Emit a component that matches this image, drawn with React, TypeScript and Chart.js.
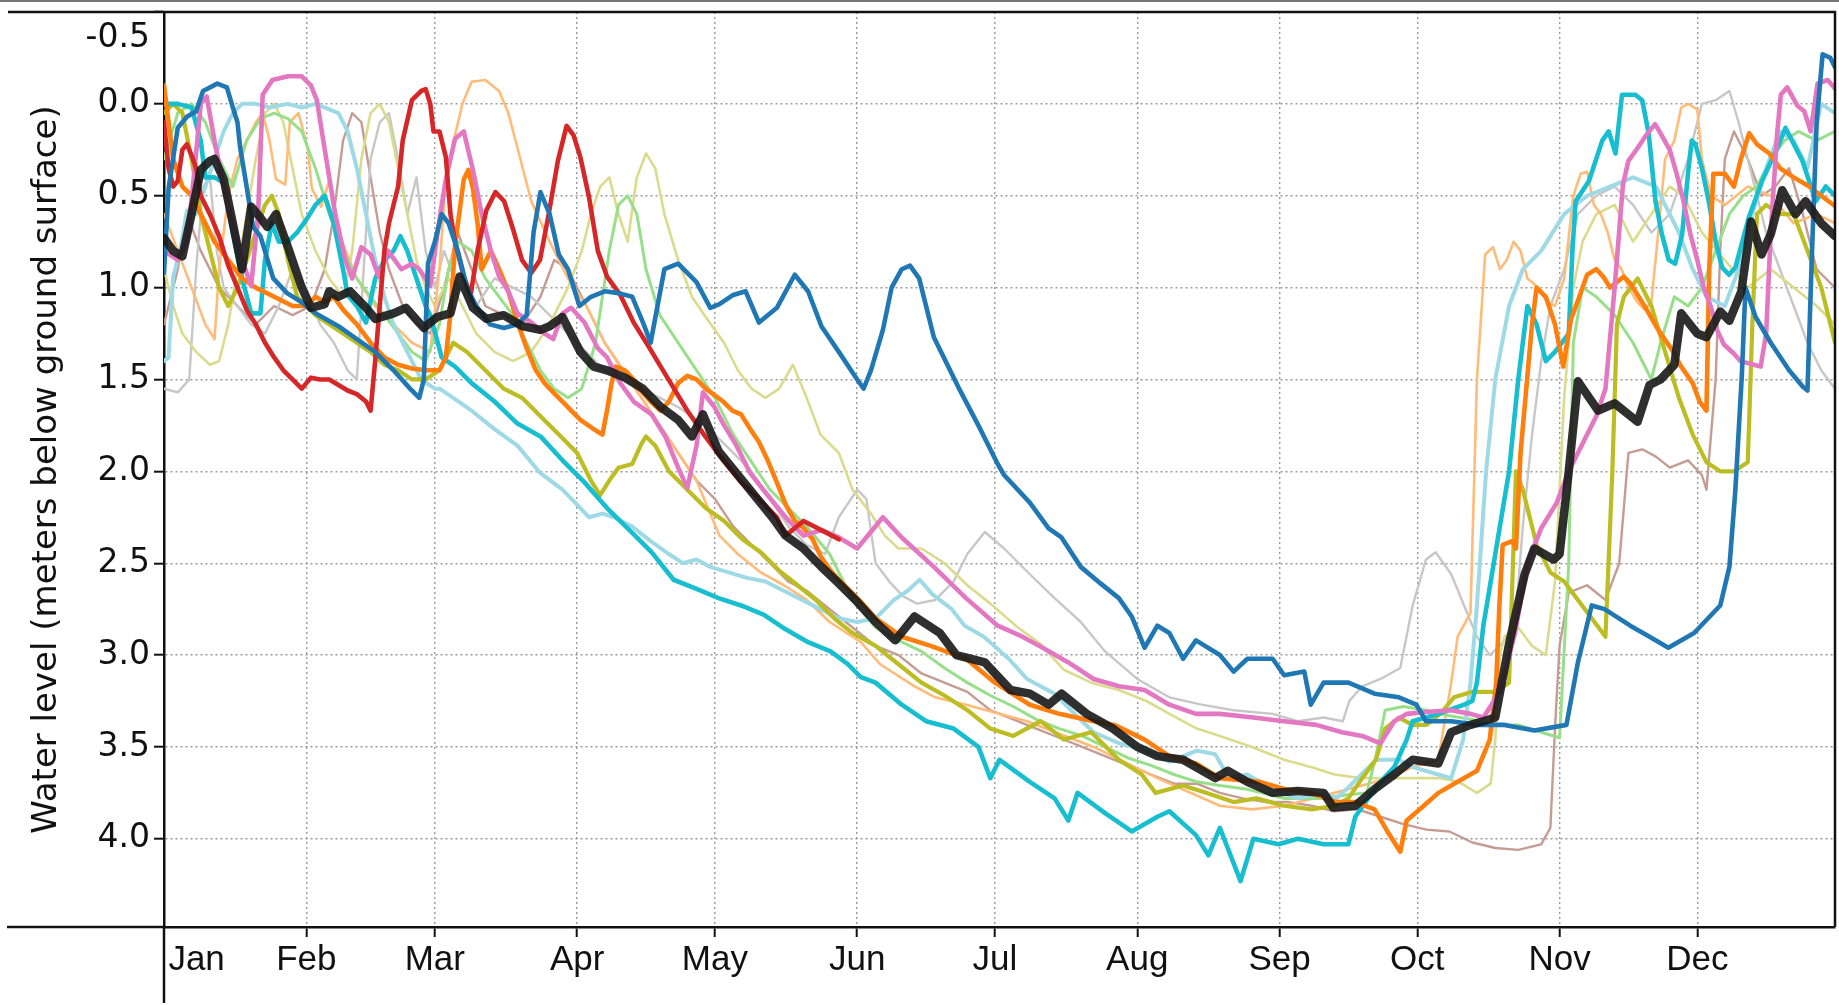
import React, { useEffect, useRef } from "react";
import { Chart, registerables } from "chart.js";

Chart.register(...registerables);

type P = [number, number];

// ---- axis data ----
const monthNames = ["Jan", "Feb", "Mar", "Apr", "May", "Jun", "Jul", "Aug", "Sep", "Oct", "Nov", "Dec"];
const monthStartDays = [0, 31, 59, 90, 120, 151, 181, 212, 243, 273, 304, 334];
const janLabelDay = 7.1;
const yTickValues = [-0.5, 0, 0.5, 1, 1.5, 2, 2.5, 3, 3.5, 4];
const yTitle = "Water level (meters below ground surface)";

// ---- series: [day of year, meters below ground surface] ----
const meanLevel: P[] = [[0,0.73],[2,0.8],[4,0.83],[6,0.6],[8,0.36],[10,0.31],[11,0.3],[13,0.41],[15,0.65],[17,0.9],[19,0.56],[21,0.62],[22.5,0.67],[24.4,0.6],[27,0.78],[30,1.0],[32,1.11],[35,1.09],[36,1.02],[38,1.05],[40.5,1.02],[44,1.11],[46,1.17],[50,1.14],[52.7,1.11],[56.6,1.22],[59.5,1.16],[62.4,1.14],[64.4,0.94],[67.3,1.11],[70.2,1.17],[74,1.15],[78,1.21],[82,1.23],[84,1.21],[86.8,1.16],[90.7,1.35],[93.6,1.43],[96.5,1.45],[100.4,1.49],[104.3,1.55],[108.2,1.65],[112,1.72],[115,1.81],[117.4,1.69],[120.8,1.89],[124.7,2.01],[128.6,2.13],[132.5,2.25],[135.4,2.35],[139.3,2.42],[143.2,2.52],[147,2.61],[151,2.71],[155,2.82],[159.3,2.92],[163.5,2.79],[169,2.88],[172.6,3.0],[178.8,3.04],[184.4,3.19],[188.6,3.21],[192.7,3.27],[195.5,3.21],[201,3.32],[206.7,3.4],[212,3.5],[216.4,3.55],[222,3.57],[229,3.67],[231.7,3.63],[236,3.69],[241.5,3.75],[247,3.74],[252.6,3.75],[254.7,3.83],[259.5,3.82],[263.7,3.73],[268,3.65],[272,3.57],[277.6,3.59],[280.4,3.42],[284.6,3.38],[287.4,3.36],[290,3.34],[293,2.94],[296.4,2.56],[298.5,2.42],[302.7,2.48],[304,2.45],[306,2.0],[308,1.51],[312.4,1.67],[316,1.63],[321,1.73],[323.6,1.53],[326,1.5],[329,1.42],[330.5,1.14],[334,1.25],[336,1.27],[339,1.13],[341,1.18],[343.6,1.02],[345.7,0.64],[348,0.82],[350,0.71],[352.5,0.47],[355.4,0.6],[357.6,0.53],[361,0.65],[364,0.72]];

const levelsBlue: P[] = [[0,0.92],[1,0.46],[3,0.13],[5,0.07],[7,0.04],[8.5,-0.07],[11.6,-0.11],[13.7,-0.09],[15,0.02],[16,0.1],[16.6,0.24],[18,0.45],[19.4,0.67],[21,0.72],[23.8,0.95],[26.8,1.03],[30,1.08],[33,1.14],[38,1.21],[42,1.28],[46,1.35],[50,1.45],[53.6,1.55],[55.6,1.6],[56.6,1.5],[57.5,0.87],[59,0.75],[60.5,0.6],[62,0.65],[64,0.8],[66,1.0],[68,1.1],[71,1.2],[74,1.22],[77,1.2],[79,1.15],[80.5,0.7],[82,0.48],[84,0.6],[86,0.82],[88,0.9],[90.5,1.1],[93,1.05],[96,1.02],[99,1.03],[102,1.05],[104.5,1.2],[106,1.3],[107.5,1.1],[109,0.9],[112,0.87],[116,0.97],[119,1.11],[121,1.09],[124,1.04],[126.7,1.02],[129.6,1.19],[133.5,1.11],[137.4,0.93],[140.3,1.02],[143.2,1.21],[147,1.35],[151,1.5],[152.4,1.55],[154,1.45],[156.6,1.23],[158.5,1.0],[160.7,0.9],[162.5,0.88],[164.5,0.95],[167.7,1.27],[173,1.54],[177.4,1.75],[181.6,1.96],[183,2.02],[188.6,2.17],[192.7,2.31],[195.5,2.36],[199.7,2.52],[204,2.61],[208,2.69],[210.8,2.79],[213.6,2.96],[216.4,2.84],[219,2.88],[222,3.02],[224.8,2.92],[230,3.0],[233,3.09],[236,3.02],[241.5,3.02],[244,3.11],[248.4,3.09],[249.8,3.27],[252.6,3.15],[258,3.15],[263.7,3.21],[269,3.23],[272.8,3.27],[274.9,3.36],[280.4,3.36],[286,3.38],[292,3.38],[298.5,3.41],[305.5,3.38],[308,3.04],[311,2.73],[313.8,2.75],[319.4,2.84],[323.6,2.9],[327.7,2.96],[333.3,2.88],[339,2.73],[341,2.52],[342.3,2.1],[343.7,1.48],[344.5,1.0],[346.7,1.16],[350,1.3],[354,1.45],[357,1.54],[358,1.56],[359,0.8],[360,0.1],[361.3,-0.27],[363,-0.25],[364,-0.2]];

const levelsRed: P[] = [[0,0.1],[1,0.35],[2,0.45],[3,0.42],[4,0.25],[5,0.22],[6,0.28],[7,0.35],[8,0.5],[10,0.6],[12,0.72],[14,0.88],[16,1.0],[18,1.12],[20,1.2],[22,1.3],[24,1.38],[26,1.45],[28,1.5],[30,1.55],[32,1.49],[34,1.5],[36,1.5],[38,1.53],[40,1.56],[42,1.58],[44,1.62],[45,1.67],[46,1.4],[47,1.1],[48,0.8],[49,0.65],[51,0.45],[52,0.2],[54,-0.02],[56,-0.07],[57,-0.08],[58,0.0],[58.7,0.15],[60,0.15],[61.4,0.29],[62.4,0.6],[63.4,0.75],[65.3,0.94],[66.8,1.04],[68.3,0.8],[70.2,0.58],[72.2,0.48],[74.1,0.53],[76,0.68],[78,0.85],[80,0.92],[81.9,0.85],[83.8,0.6],[85.8,0.31],[87.7,0.12],[89.2,0.17],[90.7,0.29],[92.6,0.51],[94.5,0.8],[96.5,0.94],[99.4,1.04],[102.3,1.19],[105.3,1.31],[108.2,1.43],[111.1,1.55],[114,1.67],[117.9,1.81],[121.8,1.94],[125.7,2.06],[129.6,2.15],[133.5,2.25],[135.4,2.35],[139.3,2.27],[143.2,2.32],[147,2.37]];

const levelsPink: P[] = [[0,0.8],[3,0.85],[5,0.75],[6.5,0.4],[8,0.0],[9.3,-0.04],[11,0.2],[13,0.45],[15,0.65],[17,0.85],[19,0.99],[20.5,0.6],[21.5,-0.05],[23.6,-0.13],[27,-0.15],[30,-0.15],[32,-0.1],[33.3,-0.02],[34.7,0.2],[36,0.4],[37.3,0.6],[39.5,0.85],[41,0.95],[43,0.78],[45,0.82],[46.8,0.94],[48.8,0.8],[51.7,0.9],[54,0.87],[55.6,0.9],[58,0.99],[60,0.63],[61.4,0.41],[63.4,0.19],[65.3,0.15],[67.3,0.36],[69.2,0.6],[71.2,0.8],[73,0.94],[75,1.02],[77,1.14],[80,1.19],[82.9,1.25],[84.8,1.28],[86.8,1.14],[88.7,1.11],[91.6,1.19],[94.5,1.33],[96.5,1.38],[99.4,1.52],[102.3,1.62],[106.2,1.69],[109.2,1.81],[112,1.98],[114,2.09],[116,1.86],[117.4,1.57],[119.9,1.65],[121.8,1.74],[124.7,1.86],[127.7,2.01],[131.5,2.13],[135.4,2.25],[139.3,2.35],[143.2,2.32],[147,2.36],[151,2.42],[156.6,2.25],[160.7,2.36],[167.7,2.52],[174.7,2.69],[181.6,2.84],[187,2.9],[191.4,2.96],[197,3.04],[202.5,3.13],[208,3.17],[213.6,3.19],[219,3.27],[224.8,3.32],[230,3.32],[237.3,3.34],[244,3.36],[251,3.38],[256.6,3.42],[261,3.44],[265,3.48],[268,3.36],[270.7,3.32],[274.8,3.31],[280.4,3.3],[284.6,3.32],[287.4,3.34],[291,3.2],[294.3,2.88],[297,2.5],[300,2.31],[303.4,2.17],[306,2.0],[309,1.85],[312,1.7],[314,1.55],[316,1.0],[317.8,0.44],[319,0.31],[321,0.24],[322.6,0.18],[324.8,0.11],[326,0.16],[328,0.25],[329.5,0.38],[331,0.53],[332.5,0.71],[334,0.85],[335.4,1.0],[336.9,1.1],[338.3,1.23],[339.8,1.31],[342,1.36],[343.4,1.4],[346.3,1.42],[347.8,1.43],[349,1.25],[350,0.7],[351.4,0.16],[352.2,-0.05],[353.6,-0.09],[355.8,0.01],[357.3,0.04],[358.7,0.15],[360.2,-0.11],[362.4,-0.13],[364.5,-0.07]];

const levelsOrange: P[] = [[0,-0.1],[1,0.1],[2,0.3],[4,0.45],[6,0.5],[8,0.6],[11,0.75],[14,0.85],[17,0.95],[20,1.0],[24,1.05],[28,1.1],[31,1.1],[33,1.05],[35,1.08],[37,1.05],[39,1.12],[42,1.2],[45,1.3],[48,1.38],[51,1.42],[54,1.44],[57,1.45],[60,1.45],[61.4,1.38],[62.4,1.14],[63.4,0.77],[65.3,0.41],[66.3,0.36],[67.3,0.46],[68.3,0.65],[69.2,0.9],[71.2,0.8],[73,0.9],[75,1.02],[77,1.19],[79,1.33],[81,1.45],[82.9,1.52],[84.8,1.57],[86.8,1.62],[88.7,1.67],[90.7,1.72],[93.6,1.77],[95.5,1.8],[96.5,1.67],[97.5,1.52],[98.4,1.43],[100.4,1.45],[102.3,1.5],[104.3,1.57],[106,1.62],[108.2,1.67],[110,1.62],[112,1.52],[114,1.48],[116,1.5],[118,1.55],[121.8,1.62],[123.8,1.67],[125.7,1.69],[127.7,1.77],[129.6,1.84],[131.5,1.94],[133.5,2.06],[135.4,2.18],[137.4,2.27],[139,2.3],[141.3,2.37],[143.2,2.47],[145.2,2.54],[147,2.59],[149,2.64],[151.8,2.71],[155,2.8],[160.7,2.9],[167,2.95],[174.7,3.02],[181,3.15],[188.6,3.27],[195,3.32],[202.5,3.36],[207,3.38],[213.6,3.46],[219,3.55],[224.8,3.59],[230,3.67],[238.7,3.69],[244.2,3.73],[249.8,3.75],[255.4,3.8],[259.5,3.8],[263.7,3.84],[266.5,3.96],[269.3,4.07],[270.7,3.9],[273.5,3.84],[277.6,3.75],[281.8,3.69],[286,3.63],[288.8,3.46],[290.2,3.15],[290.9,2.73],[291.6,2.4],[293.7,2.38],[294.5,2.42],[295.5,1.9],[297,1.48],[298,1.2],[299,1.0],[301,1.05],[303,1.2],[304.8,1.43],[306.5,1.17],[308,1.07],[310,0.93],[312,0.9],[313.5,0.94],[315,1.0],[318,0.94],[319.5,0.98],[322.5,1.1],[325.5,1.23],[328.5,1.34],[330.5,1.43],[333,1.52],[334.5,1.62],[336,1.67],[336.6,0.9],[337.5,0.38],[340,0.38],[342,0.45],[343.5,0.3],[345.3,0.16],[347,0.22],[349.7,0.27],[352,0.35],[355,0.4],[358.4,0.45],[361,0.5],[364.2,0.56]];

const levelsCyan: P[] = [[0,0.0],[3,0.0],[6,0.02],[8,0.2],[9,0.4],[11,0.4],[13,0.43],[15,0.7],[17,0.95],[19,1.14],[21,1.14],[22,0.85],[23.5,0.65],[25,0.75],[27,0.75],[29,0.7],[31,0.63],[33,0.55],[35,0.5],[37,0.65],[39,0.9],[40,1.04],[42,1.1],[44,1.19],[46,0.95],[48,0.85],[50,0.8],[51.5,0.72],[53,0.8],[55,0.95],[57,1.1],[58,1.15],[60.5,1.38],[63.4,1.43],[67,1.52],[72,1.62],[77,1.74],[82,1.81],[86.8,1.94],[91.6,2.06],[96.5,2.2],[101.4,2.32],[106.2,2.44],[111,2.59],[116,2.64],[120.8,2.69],[125.7,2.73],[130.6,2.78],[135.4,2.86],[140.3,2.93],[145.2,2.98],[149,3.05],[151.8,3.12],[155,3.15],[160.7,3.27],[166,3.36],[172,3.4],[177.4,3.5],[180,3.67],[182,3.57],[188.6,3.69],[194,3.78],[197,3.9],[199,3.75],[205,3.86],[210.8,3.96],[216.4,3.88],[219,3.85],[224.8,3.98],[227.5,4.09],[230,3.94],[234.5,4.23],[237.3,4.0],[242.8,4.03],[247,4.0],[252.6,4.03],[258,4.03],[259.5,3.88],[262.3,3.78],[265,3.69],[268,3.61],[270.7,3.46],[272,3.36],[275,3.34],[277.6,3.32],[283.2,3.27],[285,3.25],[286,3.15],[287.4,2.84],[289,2.6],[291,2.3],[293,2.0],[295,1.5],[297,1.1],[299,1.2],[301,1.4],[303,1.35],[306,1.25],[306.8,0.8],[307.5,0.53],[310.4,0.42],[313.3,0.2],[314.7,0.15],[316.2,0.27],[317.6,-0.05],[320.5,-0.05],[322,-0.02],[323.4,0.16],[324.9,0.53],[326.3,0.71],[327.8,0.85],[329.2,0.87],[330.7,0.71],[332.1,0.35],[332.8,0.2],[333.6,0.22],[335,0.35],[336.5,0.53],[338,0.75],[339.4,0.89],[340.9,0.93],[342.3,0.89],[345.2,0.62],[348.1,0.42],[351.8,0.22],[353.2,0.13],[356.9,0.31],[359.8,0.53],[362,0.45],[364,0.5]];

const levelsLightCyan: P[] = [[0,1.4],[1,1.38],[2,0.94],[3.5,0.8],[5,0.58],[7,0.6],[9,0.45],[11,0.3],[13,0.15],[15,0.05],[17,0.0],[20,0.0],[23,0.02],[27,0.0],[30,0.02],[33,0.0],[36,0.03],[38,0.05],[40,0.15],[42,0.35],[44,0.6],[46,0.85],[48,1.05],[50,1.2],[53,1.35],[56,1.5],[59,1.55],[60,1.55],[63,1.6],[67,1.67],[72,1.77],[77,1.86],[82,2.01],[86.8,2.1],[90.7,2.2],[92.6,2.25],[95.5,2.23],[98,2.25],[102,2.3],[106,2.38],[110,2.45],[113,2.5],[116,2.48],[119,2.52],[123,2.55],[127,2.58],[131,2.6],[135,2.65],[139,2.7],[143,2.75],[147,2.8],[151,2.82],[155,2.8],[159,2.7],[162,2.65],[164.6,2.59],[167.4,2.67],[171.6,2.75],[174.4,2.84],[178.6,2.9],[184,3.02],[188,3.13],[194,3.21],[200,3.36],[202.5,3.42],[208,3.48],[214,3.52],[219,3.58],[225,3.52],[229,3.54],[232,3.67],[236,3.65],[241.5,3.73],[247,3.78],[252.6,3.75],[255.4,3.78],[258,3.72],[264,3.57],[269,3.57],[272,3.61],[277.6,3.65],[280.4,3.67],[283,3.46],[284.6,3.15],[286,2.73],[288,2.0],[290,1.5],[293,1.1],[296,0.9],[300,0.8],[305,0.6],[310,0.5],[315,0.45],[320,0.4],[325,0.45],[330,0.7],[333,0.9],[336,1.05],[340,1.1],[343,0.9],[346,0.6],[349,0.35],[352,0.15],[355,0.2],[358,0.35],[361,0.0],[364,0.05]];

const levelsOlive: P[] = [[0,0.05],[2,0.0],[4,0.05],[6,0.3],[8,0.6],[10,0.8],[12,1.0],[14,1.1],[16,1.0],[18,0.85],[20,0.7],[22,0.55],[23.5,0.5],[25,0.6],[27,0.85],[29,1.05],[31,1.1],[33,1.15],[36,1.2],[39,1.25],[42,1.3],[45,1.35],[48,1.42],[51,1.45],[54,1.5],[57,1.5],[60,1.45],[63,1.3],[66,1.35],[70,1.45],[74,1.55],[78,1.6],[82,1.7],[86,1.8],[90,1.9],[93,2.05],[95,2.13],[97,2.05],[99,1.98],[102,1.96],[104,1.85],[105,1.81],[107,1.86],[110,2.0],[114,2.1],[118,2.2],[122,2.27],[126,2.37],[130,2.44],[134,2.54],[138,2.62],[142,2.7],[146,2.8],[150,2.88],[155,2.95],[160,3.05],[165,3.15],[170,3.22],[175,3.3],[180,3.4],[185,3.44],[191,3.36],[196,3.46],[202,3.42],[208,3.57],[213,3.65],[216,3.75],[222,3.71],[227,3.75],[233,3.8],[238,3.78],[244,3.82],[250,3.84],[255,3.82],[258,3.78],[261,3.67],[264,3.57],[266,3.4],[269,3.34],[272,3.38],[275,3.38],[278,3.32],[281,3.23],[285,3.2],[290,3.2],[293,3.15],[294.5,2.0],[296,2.1],[299,2.4],[302,2.55],[305,2.6],[308,2.7],[311,2.8],[314,2.9],[315.5,2.0],[316.5,1.2],[318,1.05],[321,0.95],[324,1.1],[327,1.35],[330,1.6],[333,1.8],[336,1.95],[339,2.0],[342,2.0],[345,1.95],[346,1.2],[347,0.6],[349,0.55],[352,0.6],[355,0.6],[358,0.8],[361,1.0],[364,1.3]];

const levelsLightGreen: P[] = [[0,0.3],[3,0.05],[6,0.0],[9,0.1],[12,0.3],[15,0.45],[18,0.2],[21,0.08],[24,0.05],[27,0.08],[30,0.15],[33,0.35],[36,0.6],[39,0.8],[42,0.95],[45,1.05],[48,1.15],[51,1.25],[54,1.35],[57,1.4],[60,1.2],[62,0.9],[64,0.75],[67,0.8],[70,0.95],[73,1.05],[76,1.15],[79,1.3],[82,1.45],[85,1.55],[88,1.6],[91,1.55],[94,1.3],[97,0.8],[99,0.55],[101,0.5],[103,0.6],[105,0.9],[108,1.15],[112,1.3],[116,1.45],[120,1.6],[124,1.8],[128,1.95],[132,2.1],[136,2.2],[140,2.3],[145,2.45],[150,2.7],[155,2.85],[160,2.92],[165,2.98],[170,3.07],[175,3.15],[180,3.22],[185,3.28],[190,3.35],[195,3.4],[200,3.44],[205,3.5],[210,3.56],[215,3.6],[220,3.65],[225,3.69],[230,3.71],[236,3.73],[244,3.78],[252,3.78],[258,3.76],[262,3.75],[264,3.55],[266,3.3],[270,3.28],[275,3.3],[280,3.33],[285,3.35],[290,3.38],[295,3.38],[300,3.42],[304,3.45],[306,2.5],[307,1.3],[309,1.0],[312,1.05],[316,1.15],[320,1.3],[324,1.5],[326,1.3],[329,1.05],[332,1.1],[335,1.0],[338,0.8],[341,0.6],[344,0.5],[347,0.45],[350,0.3],[353,0.2],[356,0.15],[360,0.2],[364,0.15]];

const levelsLightOrange: P[] = [[0,0.6],[3,0.8],[6,1.0],[9,1.2],[11,1.28],[12,0.9],[14,0.5],[16,0.3],[18,0.2],[20,0.1],[21.5,0.05],[23,0.2],[24.4,0.41],[26.4,0.44],[27.4,0.1],[29.3,0.05],[31.3,0.24],[32.2,0.46],[34.2,0.56],[36.1,0.41],[38,0.7],[42,0.95],[46,1.1],[50,1.2],[54,1.3],[58,1.35],[60,0.9],[61.4,0.41],[63.4,0.17],[65,0.0],[67,-0.12],[70,-0.13],[73,-0.07],[75,0.05],[77,0.24],[80,0.53],[84,0.75],[88,0.95],[92,1.1],[96,1.3],[100,1.45],[104,1.6],[108,1.75],[112,1.9],[116,2.05],[121,2.35],[125,2.45],[130,2.55],[135,2.62],[140,2.7],[145,2.82],[151.8,2.93],[156,3.05],[163.5,3.17],[168,3.23],[174.7,3.27],[188,3.36],[202.5,3.5],[216.4,3.67],[230,3.82],[237,3.84],[244,3.82],[255,3.75],[261,3.71],[266.5,3.67],[272,3.61],[277.6,3.57],[280.4,3.15],[281.8,2.9],[284.6,2.77],[286,1.5],[287.8,0.82],[289.5,0.78],[291,0.9],[292.5,0.85],[294,0.75],[295.5,0.8],[297,0.95],[298.5,0.98],[300,1.03],[301.5,1.08],[303,1.1],[305,0.95],[307,0.5],[308.6,0.38],[310,0.37],[311.5,0.55],[313,0.6],[314.5,0.7],[316,0.85],[317.5,0.9],[319,1.0],[321,1.08],[322.5,1.12],[324,1.08],[325.5,0.7],[327,0.3],[329,0.2],[330.5,0.02],[332,0.0],[334,0.03],[335,0.3],[337,0.5],[340,0.55],[345,0.45],[350,0.5],[355,0.65],[360,0.6],[364,0.65]];

const levelsGray: P[] = [[0,1.55],[3,1.57],[5.5,1.5],[7,0.9],[8.5,0.45],[10,0.4],[11.5,0.8],[13,1.0],[16,1.1],[19,1.2],[22,1.25],[25,1.1],[28,0.9],[31,1.0],[34,1.2],[37,1.3],[40,1.45],[42,1.5],[43.5,0.9],[45,0.3],[47,0.1],[49,0.05],[51,0.3],[53,0.6],[55,0.4],[57,0.8],[59,1.0],[61,0.8],[64,1.0],[68,1.1],[72,0.95],[76,1.0],[80,1.05],[84,1.15],[88,1.25],[92,1.35],[96,1.45],[100,1.5],[104,1.55],[108,1.6],[112,1.65],[116,1.72],[120,1.8],[124,1.9],[128,2.0],[132,2.15],[136,2.3],[140,2.4],[144,2.45],[147,2.25],[151,2.1],[153,2.15],[155,2.5],[158,2.6],[161,2.68],[164,2.72],[168,2.7],[172,2.6],[175,2.45],[178.8,2.33],[183,2.42],[188.6,2.56],[194,2.69],[199.7,2.82],[205,2.98],[212,3.13],[219,3.23],[226,3.27],[233,3.3],[241.5,3.32],[247,3.36],[252.6,3.34],[256.8,3.36],[258.2,3.25],[261,3.17],[265,3.13],[269.3,3.07],[272,2.73],[274.9,2.48],[277,2.44],[280.4,2.56],[283.2,2.73],[286,2.9],[288.8,3.0],[291,2.95],[294.3,2.84],[296,2.3],[298,1.8],[300,1.4],[302,1.1],[305,0.9],[308,0.6],[312,0.5],[316,0.45],[320,0.55],[324,0.7],[328,0.6],[332,0.3],[335,0.0],[338,-0.02],[341,-0.07],[343,0.1],[346,0.4],[349,0.7],[352,0.9],[355,1.1],[358,1.3],[361,1.45],[364,1.55]];

const levelsBrown: P[] = [[0,1.2],[3,0.9],[5,0.6],[8,0.8],[12,1.0],[16,1.1],[20,1.2],[24,1.1],[28,1.15],[32,1.1],[35,0.9],[37,0.6],[39,0.2],[41,0.05],[43,0.1],[45,0.4],[47,0.7],[49,0.9],[52,1.1],[55,1.2],[58,1.25],[61,1.0],[64,0.7],[67,0.9],[70,1.1],[74,1.15],[78,1.2],[82,1.05],[85,0.85],[88,0.9],[92,1.1],[96,1.3],[100,1.45],[104,1.6],[108,1.75],[112,1.9],[116,2.05],[120,2.15],[124,2.3],[128,2.4],[132,2.5],[136,2.6],[140,2.65],[145,2.75],[150,2.85],[155,2.95],[160,3.0],[165,3.1],[170,3.15],[175,3.2],[180,3.3],[185,3.35],[190,3.4],[195,3.45],[200,3.5],[205,3.55],[210,3.6],[215,3.65],[220,3.7],[225,3.7],[230,3.75],[235,3.78],[240,3.8],[245,3.8],[250,3.82],[255,3.85],[260,3.84],[265,3.88],[270,3.92],[275,3.95],[280,3.96],[285,4.02],[290,4.05],[295,4.06],[300,4.03],[302,3.94],[303,3.4],[304,2.95],[306,2.66],[310,2.62],[314,2.7],[317,2.5],[319,1.9],[322,1.88],[325,1.92],[328,1.98],[332,1.94],[335,2.02],[336,2.1],[338,1.5],[339,0.8],[340,0.3],[342,0.15],[345,0.3],[348,0.5],[351,0.45],[354,0.35],[357,0.6],[360,0.9],[364,1.0]];

const levelsLightOlive: P[] = [[0,0.9],[2,1.1],[4,1.25],[7,1.35],[10,1.42],[12,1.4],[14,1.2],[16,0.9],[18,0.6],[20,0.3],[22,0.05],[24,0.0],[26,0.1],[28,0.35],[30,0.6],[33,0.8],[36,0.95],[39,1.05],[41,0.8],[43,0.3],[45,0.05],[47,0.0],[49,0.1],[51,0.35],[53,0.6],[55,0.85],[57,1.0],[59,1.1],[62,0.95],[65,1.1],[68,1.25],[72,1.35],[76,1.4],[80,1.35],[84,1.2],[88,1.0],[91,0.8],[93,0.6],[95,0.45],[97,0.4],[99,0.6],[101,0.75],[103,0.4],[105,0.27],[107,0.35],[109,0.6],[112,0.85],[115,1.05],[118,1.16],[122,1.3],[125,1.45],[128,1.55],[131,1.6],[134,1.55],[137,1.42],[140,1.6],[143,1.8],[147,1.9],[150,2.1],[154,2.23],[157,2.35],[160,2.42],[165,2.42],[170,2.5],[175,2.62],[180,2.72],[186,2.85],[191,2.94],[196,3.08],[202,3.15],[208,3.19],[214,3.25],[219,3.32],[225,3.4],[230,3.44],[237,3.5],[244,3.57],[250,3.61],[255,3.65],[261,3.67],[266,3.67],[272,3.67],[278,3.67],[282,3.69],[286,3.75],[289,3.7],[290,3.46],[291,3.0],[292,2.9],[295,2.85],[298,2.95],[301,3.0],[303,2.6],[305,1.6],[307,1.0],[309,0.75],[312,0.6],[316,0.55],[320,0.75],[324,0.6],[328,0.45],[331,0.5],[335,0.7],[340,0.85],[345,1.0],[350,0.9],[355,1.0],[360,1.1],[364,1.2]];

// ---- series styling (drawn first = on top) ----
const seriesList: { data: P[]; color: string; width: number }[] = [
  { data: meanLevel, color: "rgba(24,24,24,0.9)", width: 8.5 },
  { data: levelsBlue, color: "#1f77b4", width: 4.6 },
  { data: levelsRed, color: "#d62728", width: 4.6 },
  { data: levelsPink, color: "#e377c2", width: 4.6 },
  { data: levelsOrange, color: "#ff7f0e", width: 4.6 },
  { data: levelsCyan, color: "#17becf", width: 4.6 },
  { data: levelsOlive, color: "#bcbd22", width: 4.2 },
  { data: levelsLightCyan, color: "#9edae5", width: 4 },
  { data: levelsLightGreen, color: "#98df8a", width: 3 },
  { data: levelsLightOrange, color: "#ffbb78", width: 2.6 },
  { data: levelsLightOlive, color: "#dbdb8d", width: 2.6 },
  { data: levelsGray, color: "#c7c7c7", width: 2.4 },
  { data: levelsBrown, color: "#c49c94", width: 2.4 },
];

const xTickValues = [janLabelDay, ...monthStartDays.slice(1)];

const framePlugin = {
  id: "frame",
  afterDraw(chart: any) {
    const { ctx, chartArea } = chart;
    const { left, right, top, bottom } = chartArea;
    ctx.save();
    ctx.strokeStyle = "#777";
    ctx.lineWidth = 2;
    ctx.beginPath();
    ctx.moveTo(0, 1);
    ctx.lineTo(1839, 1);
    ctx.stroke();
    ctx.strokeStyle = "#111";
    ctx.lineWidth = 2.5;
    ctx.beginPath();
    ctx.moveTo(8, top);
    ctx.lineTo(right, top);
    ctx.lineTo(right, bottom);
    ctx.moveTo(7, bottom);
    ctx.lineTo(left, bottom);
    ctx.moveTo(left, bottom);
    ctx.lineTo(left, 1003);
    ctx.stroke();
    ctx.fillStyle = "#111";
    ctx.font = '33px "DejaVu Sans", Verdana, sans-serif';
    ctx.textAlign = "right";
    ctx.textBaseline = "middle";
    ctx.fillText("-0.5", 150, 38);
    ctx.restore();
  },
};

export default function App() {
  const ref = useRef<HTMLCanvasElement | null>(null);
  useEffect(() => {
    if (!ref.current) return;
    const chart = new Chart(ref.current, {
      type: "line",
      data: {
        datasets: seriesList.map((s) => ({
          data: s.data.map(([x, y]) => ({ x, y })),
          borderColor: s.color,
          backgroundColor: s.color,
          borderWidth: s.width,
          pointRadius: 0,
          tension: 0,
          fill: false,
          borderJoinStyle: "round" as const,
          borderCapStyle: "round" as const,
        })),
      },
      options: {
        responsive: false,
        maintainAspectRatio: false,
        animation: false,
        layout: { padding: { top: 12, right: 4, left: 0, bottom: 0 }, autoPadding: false },
        plugins: { legend: { display: false }, tooltip: { enabled: false }, title: { display: false } },
        scales: {
          x: {
            type: "linear",
            min: 0,
            max: 364,
            afterBuildTicks: (s: any) => {
              s.ticks = xTickValues.map((v) => ({ value: v }));
            },
            afterFit: (s: any) => {
              s.height = 78;
              s.paddingLeft = 0;
              s.paddingRight = 0;
              s.paddingTop = 0;
              s.paddingBottom = 0;
            },
            grid: {
              color: (c: any) => (c.tick && c.tick.value === janLabelDay ? "rgba(0,0,0,0)" : "#9a9a9a"),
              tickColor: (c: any) => (c.tick && c.tick.value === janLabelDay ? "rgba(0,0,0,0)" : "#111"),
              lineWidth: 1.4,
              tickLength: 10,
              tickWidth: 2,
            },
            border: { display: true, color: "#111", width: 2.5, dash: [2, 3] },
            ticks: {
              autoSkip: false,
              maxRotation: 0,
              padding: 2,
              color: "#111",
              font: { family: '"Liberation Sans", Arial, sans-serif', size: 35 },
              callback: (v: any) => {
                if (v === janLabelDay) return "Jan";
                const i = monthStartDays.indexOf(v);
                return i >= 0 ? monthNames[i] : "";
              },
            },
          },
          y: {
            type: "linear",
            reverse: true,
            min: -0.5,
            max: 4.48,
            afterBuildTicks: (s: any) => {
              s.ticks = yTickValues.map((v) => ({ value: v }));
            },
            afterFit: (s: any) => {
              s.width = 164;
              s.paddingLeft = 0;
              s.paddingRight = 0;
              s.paddingTop = 0;
              s.paddingBottom = 0;
            },
            grid: { color: "#9a9a9a", tickColor: "#111", lineWidth: 1.4, tickLength: 10, tickWidth: 2 },
            border: { display: true, color: "#111", width: 2.5, dash: [2, 3] },
            ticks: {
              padding: 4,
              color: "#111",
              font: { family: '"DejaVu Sans", Verdana, sans-serif', size: 33 },
              callback: (v: any) => (v === -0.5 ? "" : Number(v).toFixed(1)),
            },
            title: {
              display: true,
              text: yTitle,
              color: "#111",
              font: { family: '"DejaVu Sans", Verdana, sans-serif', size: 34 },
              padding: { top: 27, bottom: 0 },
            },
          },
        },
      },
      plugins: [framePlugin],
    } as any);
    return () => chart.destroy();
  }, []);
  return (
    <div style={{ position: "fixed", left: 0, top: 0, width: 1839, height: 1005, background: "#fff" }}>
      <canvas ref={ref} width={1839} height={1005} style={{ display: "block", width: 1839, height: 1005 }} />
    </div>
  );
}
